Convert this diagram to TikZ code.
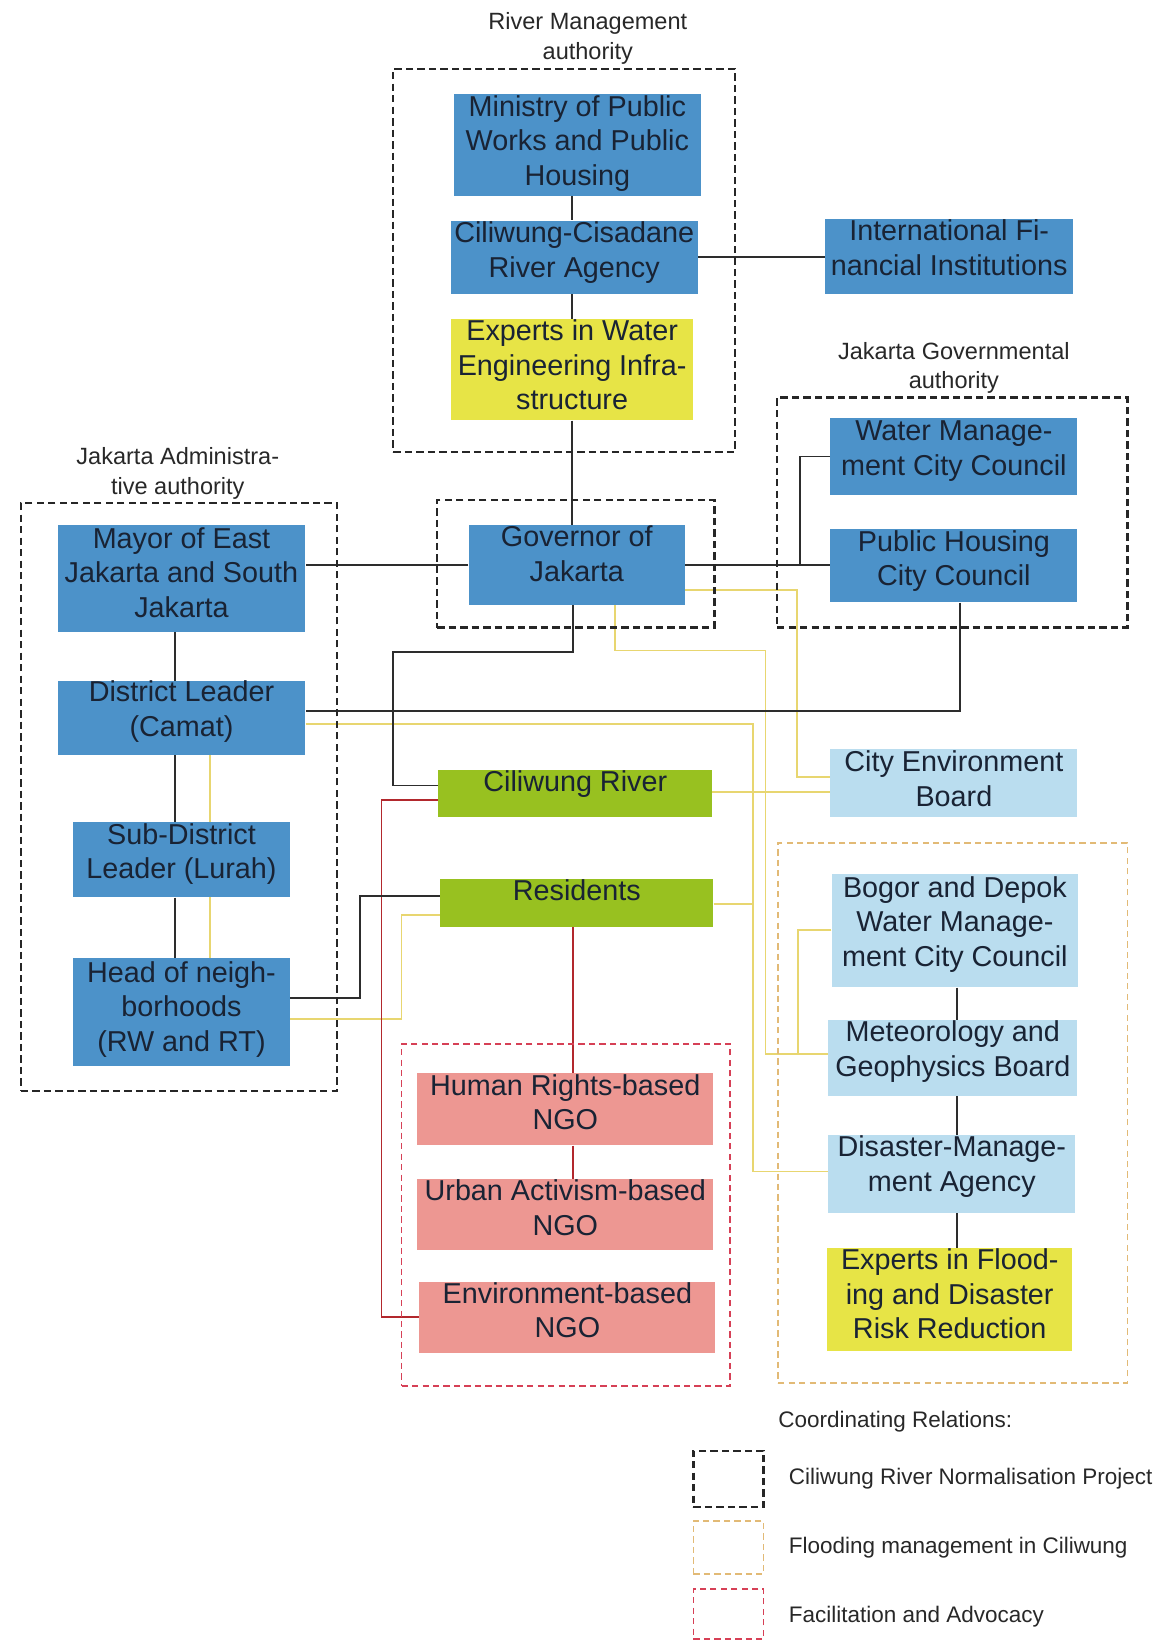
\documentclass[tikz,border=0pt]{standalone}
\usepackage{fontspec}
\setmainfont{Liberation Sans}
\definecolor{cblue}{RGB}{76,146,201}
\definecolor{clight}{RGB}{186,221,239}
\definecolor{cyel}{RGB}{231,228,70}
\definecolor{cgreen}{RGB}{152,193,32}
\definecolor{cpink}{RGB}{237,151,146}
\definecolor{ctext}{RGB}{25,35,52}
\definecolor{clab}{RGB}{40,40,40}
\definecolor{cline}{RGB}{45,45,45}
\definecolor{cylw}{RGB}{232,214,112}
\definecolor{cred}{RGB}{178,40,45}
\definecolor{cdorange}{RGB}{226,186,118}
\definecolor{cdred}{RGB}{214,64,86}
\newcommand\txtdepth[1]{\rule[-#1pt]{0pt}{#1pt}}
\pgfdeclarelayer{back}
\pgfdeclarelayer{wires}
\pgfsetlayers{back,wires,main}
\begin{document}
\begin{tikzpicture}[x=1pt,y=-1pt,
  box/.style={rectangle, inner sep=0pt, align=center, font=\fontsize{27.5}{33}\selectfont, text=ctext},
  bbox/.style={box, fill=cblue},
  lbox/.style={box, fill=clight},
  ybox/.style={box, fill=cyel},
  gbox/.style={box, fill=cgreen},
  pbox/.style={box, fill=cpink},
  grplab/.style={inner sep=0pt, align=center, font=\fontsize{22.5}{28}\selectfont, text=clab, anchor=north},
  leglab/.style={inner sep=0pt, font=\fontsize{21.5}{26}\selectfont, text=clab, anchor=base west},
  grpk/.style={draw=black!85, line width=2.2pt, dash pattern=on 7pt off 4pt, inner sep=0pt},
  grpo/.style={draw=cdorange, line width=1.6pt, dash pattern=on 6pt off 4pt, inner sep=0pt},
  grpr/.style={draw=cdred, line width=1.6pt, dash pattern=on 6pt off 4pt, inner sep=0pt},
  blk/.style={draw=cline, line width=1.8pt},
  ylw/.style={draw=cylw, line width=1.6pt},
  redl/.style={draw=cred, line width=1.4pt}]

\begin{pgfonlayer}{back}
\fill[white] (0,0) rectangle (1118,1568);
\end{pgfonlayer}
\useasboundingbox (0,0) rectangle (1118,1568);

% group labels
\node[grplab] (lrm) at (562,12) {River Management\\authority};
\node[grplab] (ljg) at (912,327) {Jakarta Governmental\\authority};
\node[grplab] (lja) at (170,428) {Jakarta Administra-\\tive authority};

% group frames
\node[grpk, minimum width=327pt, minimum height=366pt] (grm) at (539.5,249) {};
\node[grpk, minimum width=265pt, minimum height=122pt] (ggov) at (550.5,539) {};
\node[grpk, minimum width=335pt, minimum height=220pt] (gjg) at (910.5,490) {};
\node[grpk, minimum width=302pt, minimum height=562pt] (gja) at (171,762) {};
\node[grpo, minimum width=334pt, minimum height=516pt] (gfl) at (911,1064) {};
\node[grpr, minimum width=314pt, minimum height=327pt] (gng) at (541,1161.5) {};

% boxes
\node[bbox, minimum width=236pt, minimum height=97pt] (min) at (552,138.5) {Ministry of Public\\Works and Public\\Housing\txtdepth{9}};
\node[bbox, minimum width=236pt, minimum height=70pt] (cc) at (549,246) {Ciliwung-Cisadane\\River Agency\txtdepth{15}};
\node[bbox, minimum width=237pt, minimum height=72pt] (ifi) at (907.5,245) {International Fi-\\nancial Institutions\txtdepth{17}};
\node[ybox, minimum width=232pt, minimum height=97pt] (expw) at (547,353.5) {Experts in Water\\Engineering Infra-\\structure\txtdepth{9}};
\node[bbox, minimum width=236pt, minimum height=73pt] (wm) at (912,436.5) {Water Manage-\\ment City Council\txtdepth{16}};
\node[bbox, minimum width=236pt, minimum height=70pt] (ph) at (912,541) {Public Housing\\City Council\txtdepth{15}};
\node[bbox, minimum width=207pt, minimum height=76pt] (gov) at (551.5,540) {Governor of\\Jakarta\txtdepth{21}};
\node[bbox, minimum width=237pt, minimum height=102pt] (mayor) at (173.5,553) {Mayor of East\\Jakarta and South\\Jakarta\txtdepth{12}};
\node[bbox, minimum width=237pt, minimum height=71pt] (dist) at (173.5,686.5) {District Leader\\(Camat)\txtdepth{18}};
\node[bbox, minimum width=207pt, minimum height=72pt] (sub) at (173.5,822) {Sub-District\\Leader (Lurah)\txtdepth{17}};
\node[bbox, minimum width=207pt, minimum height=103pt] (head) at (173.5,967.5) {Head of neigh-\\borhoods\\(RW and RT)\txtdepth{11}};
\node[gbox, minimum width=262pt, minimum height=45pt] (cr) at (550,758.5) {Ciliwung River\txtdepth{23}};
\node[gbox, minimum width=261pt, minimum height=46pt] (res) at (551.5,863) {Residents\txtdepth{24}};
\node[lbox, minimum width=236pt, minimum height=65pt] (ceb) at (912,748.5) {City Environment\\Board\txtdepth{8}};
\node[lbox, minimum width=236pt, minimum height=108pt] (bog) at (913,890) {Bogor and Depok\\Water Manage-\\ment City Council\txtdepth{18}};
\node[lbox, minimum width=238pt, minimum height=73pt] (met) at (911,1011.5) {Meteorology and\\Geophysics Board\txtdepth{18}};
\node[lbox, minimum width=236pt, minimum height=75pt] (dm) at (910,1122.5) {Disaster-Manage-\\ment Agency\txtdepth{20}};
\node[ybox, minimum width=234pt, minimum height=99pt] (expf) at (908,1242.5) {Experts in Flood-\\ing and Disaster\\Risk Reduction\txtdepth{11}};
\node[pbox, minimum width=283pt, minimum height=69pt] (hr) at (540.5,1060.5) {Human Rights-based\\NGO\txtdepth{14}};
\node[pbox, minimum width=283pt, minimum height=68pt] (ua) at (540.5,1161) {Urban Activism-based\\NGO\txtdepth{13}};
\node[pbox, minimum width=283pt, minimum height=68pt] (env) at (542.5,1260) {Environment-based\\NGO\txtdepth{15}};

% legend
\node[leglab] (lgh) at (744,1365) {Coordinating Relations:};
\node[grpk, minimum width=67pt, minimum height=54pt] (lg1) at (696.5,1414) {};
\node[grpo, minimum width=67pt, minimum height=51pt] (lg2) at (696.5,1479.5) {};
\node[grpr, minimum width=67pt, minimum height=48pt] (lg3) at (696.5,1543) {};
\node[leglab] (lt1) at (754,1419) {Ciliwung River Normalisation Project};
\node[leglab] (lt2) at (754,1485) {Flooding management in Ciliwung};
\node[leglab] (lt3) at (754,1551) {Facilitation and Advocacy};

% helper coordinates
\coordinate (xrm) at (547,0);
\coordinate (xja) at (167,0);
\coordinate (xjay) at (201,0);
\coordinate (xfl) at (915,0);
\coordinate (xng) at (548,0);
\coordinate (jgb) at (765,540);
\coordinate (g1) at (376,623);
\coordinate (g2) at (376,751);
\coordinate (d1) at (918,680);
\coordinate (h1) at (344,954);
\coordinate (h2) at (344,857);
\coordinate (y1) at (762,564);
\coordinate (y2) at (762,743);
\coordinate (y3) at (588,622);
\coordinate (y4) at (732,622);
\coordinate (y5) at (732,1008);
\coordinate (y6) at (720,692);
\coordinate (y7) at (720,1120);
\coordinate (y8) at (720,864);
\coordinate (y9) at (0,757);
\coordinate (y10) at (763,889);
\coordinate (y11) at (763,1008);
\coordinate (y12) at (384,974);
\coordinate (y13) at (384,875);
\coordinate (r1) at (365,765);
\coordinate (r2) at (365,1259);

\begin{pgfonlayer}{wires}
% yellow
\draw[ylw] (xjay |- dist.south) -- (xjay |- head.north);
\draw[ylw] (gov.east |- y1) -- (y1) -- (y2) -- (ceb.west |- y2);
\draw[ylw] (y3 |- gov.south) -- (y3) -- (y4) -- (y5) -- (met.west |- y5);
\draw[ylw] (dist.east |- y6) -- (y6) -- (y7) -- (dm.west |- y7);
\draw[ylw] (res.east |- y8) -- (y8);
\draw[ylw] (cr.east |- y9) -- (ceb.west |- y9);
\draw[ylw] (bog.west |- y10) -- (y10) -- (y11);
\draw[ylw] (head.east |- y12) -- (y12) -- (y13) -- (res.west |- y13);
% red
\draw[redl] (cr.west |- r1) -- (r1) -- (r2) -- (env.west |- r2);
\draw[redl] (xng |- res.south) -- (xng |- hr.north);
\draw[redl] (xng |- hr.south) -- (xng |- ua.north);
% black
\draw[blk] (xrm |- min.south) -- (xrm |- cc.north);
\draw[blk] (xrm |- cc.south) -- (xrm |- expw.north);
\draw[blk] (xrm |- expw.south) -- (xrm |- gov.north);
\draw[blk] (cc.east) -- (ifi.west |- cc.east);
\draw[blk] (gov.west) -- (mayor.east |- gov.west);
\draw[blk] (gov.east) -- (ph.west |- gov.east);
\draw[blk] (jgb) |- (wm.west);
\draw[blk] (xng |- gov.south) |- (g1) -- (g2) -- (cr.west |- g2);
\draw[blk] (d1 |- ph.south) -- (d1) -- (dist.east |- d1);
\draw[blk] (xja |- mayor.south) -- (xja |- dist.north);
\draw[blk] (xja |- dist.south) -- (xja |- sub.north);
\draw[blk] (xja |- sub.south) -- (xja |- head.north);
\draw[blk] (head.east |- h1) -- (h1) -- (h2) -- (res.west |- h2);
\draw[blk] (xfl |- bog.south) -- (xfl |- met.north);
\draw[blk] (xfl |- met.south) -- (xfl |- dm.north);
\draw[blk] (xfl |- dm.south) -- (xfl |- expf.north);
\end{pgfonlayer}
\end{tikzpicture}
\end{document}
